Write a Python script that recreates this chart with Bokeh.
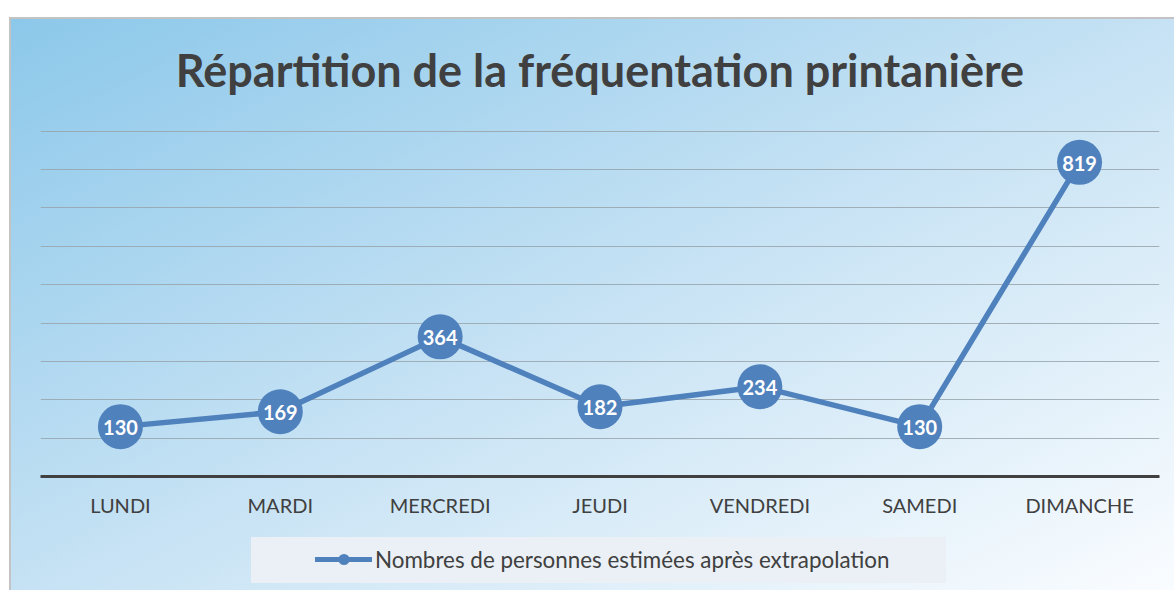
from bokeh.plotting import figure
from bokeh.layouts import column
from bokeh.models import (ColumnDataSource, FactorRange, Range1d, FixedTicker,
                          Legend, LegendItem)
from bokeh.core.properties import value
from bokeh.embed import file_html
from bokeh.resources import INLINE

# ---- data ----
categories = ["LUNDI", "MARDI", "MERCREDI", "JEUDI", "VENDREDI", "SAMEDI", "DIMANCHE"]
visitors = [130, 169, 364, 182, 234, 130, 819]
labels = [str(v) for v in visitors]
grid_ticks = [100, 200, 300, 400, 500, 600, 700, 800, 900]
title_text = "Répartition de la fréquentation printanière"
series_name = "Nombres de personnes estimées après extrapolation"

BLUE = "#4f81bd"
DARK = "#404040"
FONT = "Lato"

src = ColumnDataSource(dict(x=categories, y=visitors, t=labels))

p = figure(x_range=FactorRange(*categories), y_range=Range1d(0, 902),
           frame_width=1119, frame_height=346,
           min_border_left=40, min_border_right=15,
           min_border_top=130, min_border_bottom=49,
           output_backend="svg", toolbar_location=None, tools="")
p.background_fill_alpha = 0
p.border_fill_alpha = 0
p.outline_line_color = None

# title
p.title.text = title_text
p.title.text_font = FONT
p.title.text_font_style = "bold"
p.title.text_font_size = "45px"
p.title.text_color = DARK
p.title.align = "center"
p.title.standoff = 67

# axes
p.yaxis.visible = False
p.xgrid.visible = False
p.ygrid.ticker = FixedTicker(ticks=grid_ticks)
p.ygrid.grid_line_color = "#98a4ac"
p.ygrid.grid_line_width = 1
p.ygrid.grid_line_alpha = 0.85

ax = p.xaxis[0]
ax.axis_line_color = DARK
ax.axis_line_width = 3
ax.major_tick_line_color = None
ax.minor_tick_line_color = None
ax.major_label_text_font = FONT
ax.major_label_text_font_size = "20px"
ax.major_label_text_color = DARK
ax.major_label_standoff = 10

# series
p.line("x", "y", source=src, line_color=BLUE, line_width=5.5, line_join="round")
p.scatter("x", "y", source=src, size=45, fill_color=BLUE, line_color=None)
p.text("x", "y", text="t", source=src, text_color="white",
       text_font=value(FONT), text_font_style="bold", text_font_size="20px",
       text_align="center", text_baseline="middle", y_offset=1)

# legend strip (separate transparent figure below the chart)
p2 = figure(x_range=Range1d(0, 1), y_range=Range1d(0, 1),
            frame_width=1174, frame_height=65,
            min_border_left=0, min_border_right=0,
            min_border_top=0, min_border_bottom=0,
            output_backend="svg", toolbar_location=None, tools="")
p2.axis.visible = False
p2.grid.visible = False
p2.outline_line_color = None
p2.background_fill_alpha = 0
p2.border_fill_alpha = 0

# legend proxies: same series, lying outside this strip's range (never visible)
proxy = ColumnDataSource(dict(x=list(range(len(visitors))), y=visitors))
lr = p2.line("x", "y", source=proxy, line_color=BLUE, line_width=5, line_cap="round")
sr = p2.scatter("x", "y", source=proxy, size=11, fill_color=BLUE, line_color=None)
legend = Legend(items=[LegendItem(label=series_name, renderers=[lr, sr])],
                location=(315, 17), padding=0, margin=0, spacing=0,
                glyph_width=57, glyph_height=28, label_standoff=3,
                label_text_font=FONT, label_text_font_size="22.4px",
                label_text_color=DARK, background_fill_alpha=0,
                border_line_color=None)
p2.add_layout(legend, "center")

layout = column(p, p2, spacing=0)
bg_layers = [
    "linear-gradient(#eaf0f6, #eaf0f6) 251px 537px / 695px 46px no-repeat",
    "linear-gradient(#c3c3c3, #c3c3c3) 9px 17px / 100% 2px no-repeat",
    "linear-gradient(#c3c3c3, #c3c3c3) 9px 17px / 2px 100% no-repeat",
    "linear-gradient(to bottom right, #8cc8ea 0%, #c6e2f4 50%, #fbfdff 100%) 11px 19px / 1170px 580px no-repeat",
]
layout.styles = {"background": ", ".join(bg_layers)}

open("out.html", "w").write(file_html(layout, INLINE))
